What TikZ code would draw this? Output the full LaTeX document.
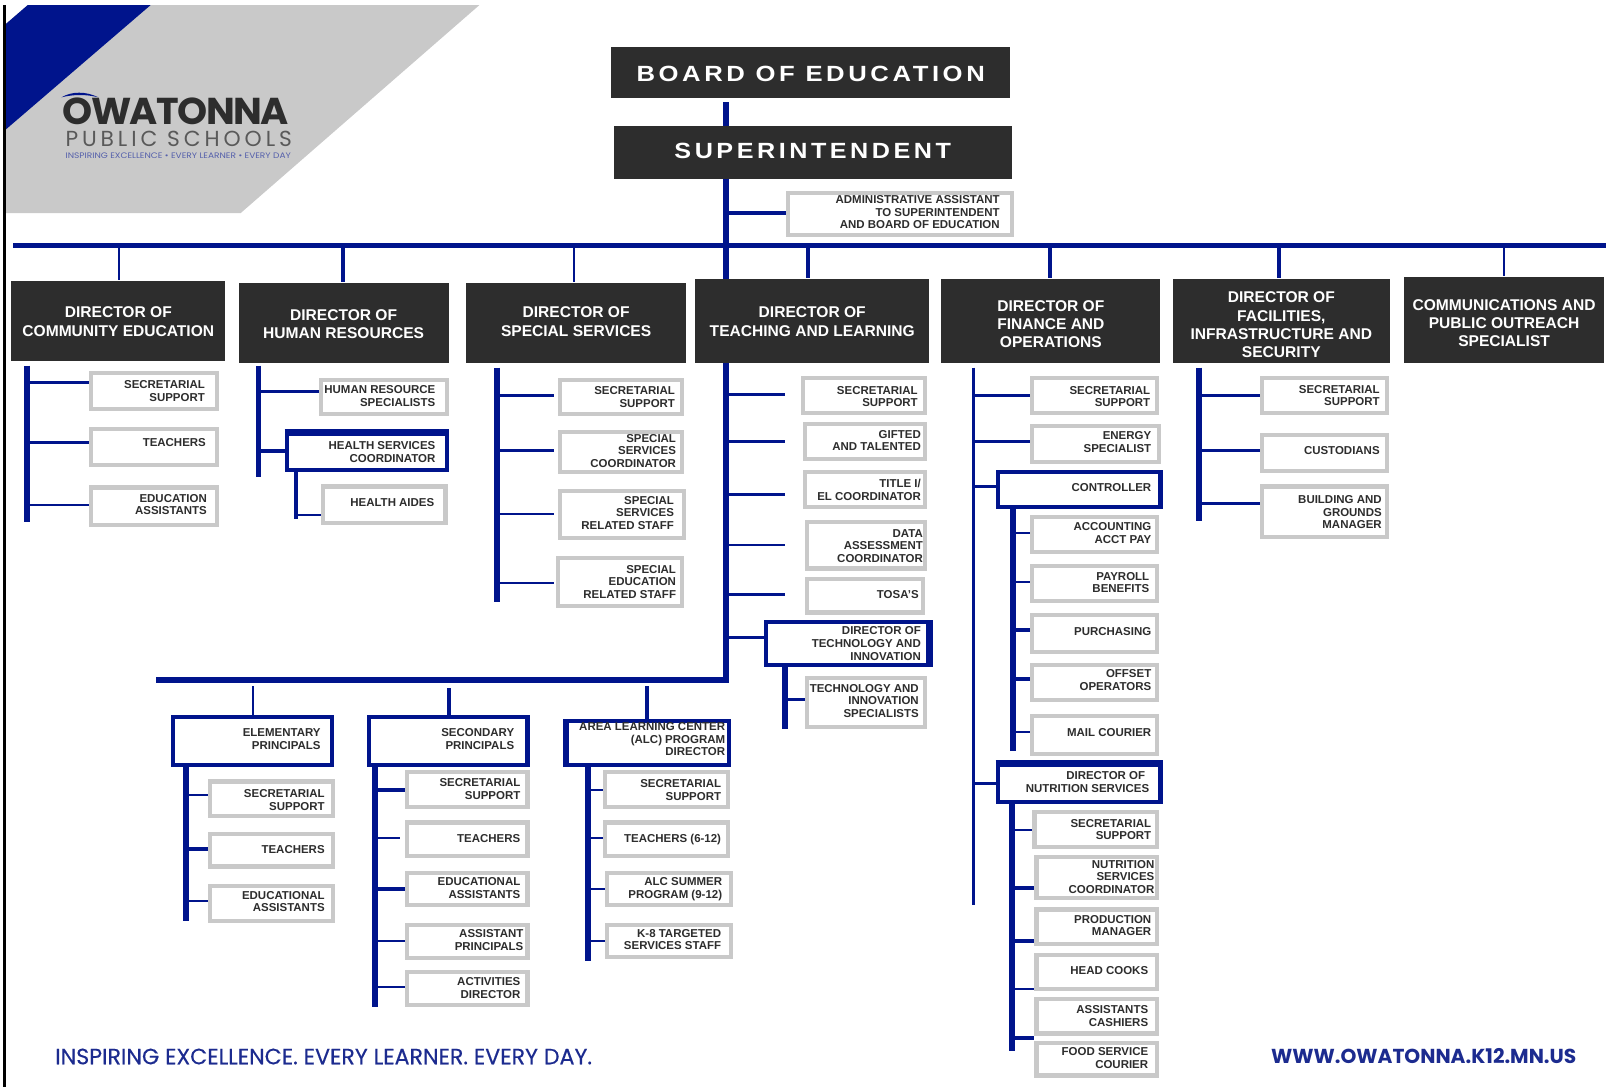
\documentclass[tikz,border=0pt]{standalone}
\usepackage{fontspec}
\setmainfont{Liberation Sans}
\newfontfamily\popfont{Poppins}
\newfontfamily\popmed[FakeBold=0.35]{Poppins}
\newfontfamily\poptight[LetterSpace=-4]{Poppins}
\newfontfamily\popwide[LetterSpace=18]{Poppins}
\newfontfamily\widefont[LetterSpace=14]{Liberation Sans}
\usetikzlibrary{backgrounds}
\definecolor{navy}{HTML}{00148C}
\definecolor{boxgray}{HTML}{C9C9C9}
\definecolor{dark}{HTML}{2D2D2D}
\definecolor{foot}{HTML}{1C2B8F}
\tikzset{
  graybox/.style={draw=boxgray,line width=4pt,fill=white,inner sep=0pt,text=dark,font=\bfseries\fontsize{11.2}{12.3}\selectfont},
  bluebox/.style={draw=navy,line width=4pt,fill=white,inner sep=0pt,text=dark,font=\bfseries\fontsize{11.2}{12.3}\selectfont},
  darkbox/.style={fill=dark,inner sep=0pt,text=white,font=\bfseries\fontsize{15.2}{17.8}\selectfont},
  conn/.style={draw=navy,line cap=butt},
  plaintext/.style={inner sep=0pt,anchor=center}
}
\newcommand\inlabel[4]{\makebox[#1][r]{\raisebox{#3}[0pt][0pt]{\begin{tabular}{@{}r@{}}#4\end{tabular}}\hspace*{#2}}}
\newcommand\anybox[9]{\node[#1,minimum width=#4pt-#2pt-4pt,minimum height=#5pt-#3pt-4pt] (#9) at ({(#2+#4)/2},{(#3+#5)/2})
  {\inlabel{\dimexpr#4pt-#2pt-4pt\relax}{\dimexpr#4pt-#6pt-2pt\relax}{\dimexpr(#3pt+#5pt)/2-#7pt-4.4pt\relax}{#8}};}
% name x1 y1 x2 y2 xright ycentre text
\newcommand\grbox[8]{\anybox{graybox}{#2}{#3}{#4}{#5}{#6}{#7}{#8}{#1}}
\newcommand\blbox[8]{\anybox{bluebox}{#2}{#3}{#4}{#5}{#6}{#7}{#8}{#1}}
\newcommand\dkbox[7]{\node[darkbox,minimum width=#4pt-#2pt,minimum height=#5pt-#3pt] (#1) at ({(#2+#4)/2},{(#3+#5)/2})
  {\raisebox{\dimexpr(#3pt+#5pt)/2-#6pt-6.4pt\relax}[0pt][0pt]{\begin{tabular}{@{}c@{}}#7\end{tabular}}};}
% spine: x y0 y1 width
\newcommand\spine[5]{\coordinate (#1) at (#2,#3); \coordinate (#1e) at (#2,#4); \draw[conn,line width=#5pt] (#1) -- (#1e);}
% branch: spine box y width
\newcommand\branch[4]{\draw[conn,line width=#4pt] (#1 |- 0,#3) -- (#2.west |- 0,#3);}
\newcommand\shortbranch[5]{\draw[conn,line width=#4pt,shorten >=#5pt] (#1 |- 0,#3) -- (#2.west |- 0,#3);}
\newcommand\stem[3]{\draw[conn,line width=#3pt] (#2,0 |- bus) -- (#2,0 |- #1.north);}
\begin{document}
\begin{tikzpicture}[x=1pt,y=-1pt]
\useasboundingbox (0,0) rectangle (1568,1061);
% logo band
\fill[boxgray] (5,5) -- (468,5) -- (235,208) -- (5,208) -- cycle;
\fill[white] (5,5) -- (27,5) -- (5,24) -- cycle;
\fill[navy] (5,24) -- (27,5) -- (147,5) -- (5,127) -- cycle;
\fill[navy] (60,95) .. controls (70,89) and (84,89) .. (96,95) .. controls (84,92) and (72,92) .. (60,95) -- cycle;
\node[plaintext,text=dark] (logoa) at (171.5,108.5) {\resizebox{221pt}{26pt}{\poptight\bfseries OWATONNA}};
\node[plaintext,text=black!65] (logob) at (174.5,136) {\resizebox{221pt}{15pt}{\popwide PUBLIC SCHOOLS}};
\node[plaintext,text=foot!75] (logoc) at (174,152.5) {\resizebox{220pt}{5.5pt}{\popfont INSPIRING EXCELLENCE • EVERY LEARNER • EVERY DAY}};
\draw[black,line width=2.5pt] (4.2,5) -- (4.2,1061);
% top
\dkbox{board}{597}{46}{986}{96}{72}{\resizebox{340pt}{15pt}{\widefont\bfseries BOARD OF EDUCATION}}
\dkbox{super}{599}{123}{988}{175}{147}{\resizebox{270pt}{15pt}{\widefont\bfseries SUPERINTENDENT}}
\grbox{admin}{767}{186}{990}{231}{976}{207}{ADMINISTRATIVE ASSISTANT\\TO SUPERINTENDENT\\AND BOARD OF EDUCATION}
% directors
\dkbox{comm}{11}{274}{220}{352}{313}{DIRECTOR OF\\COMMUNITY EDUCATION}
\dkbox{hr}{233}{276}{438}{354}{315}{DIRECTOR OF\\HUMAN RESOURCES}
\dkbox{spec}{455}{276}{670}{354}{313}{DIRECTOR OF\\SPECIAL SERVICES}
\dkbox{teach}{679}{272}{907}{354}{313}{DIRECTOR OF\\TEACHING AND LEARNING}
\dkbox{fin}{919}{272}{1133}{354}{315.5}{DIRECTOR OF\\FINANCE AND\\OPERATIONS}
\dkbox{fac}{1145}{272}{1357}{354}{316}{DIRECTOR OF\\FACILITIES,\\INFRASTRUCTURE AND\\SECURITY}
\dkbox{pub}{1371}{270}{1566}{354}{314.5}{COMMUNICATIONS AND\\PUBLIC OUTREACH\\SPECIALIST}
% community
\grbox{c1}{87}{362}{214}{401}{200}{381.5}{SECRETARIAL\\SUPPORT}
\grbox{c2}{87}{417}{214}{456}{201}{432}{TEACHERS}
\grbox{c3}{87}{474}{214}{515}{202}{492.5}{EDUCATION\\ASSISTANTS}
% HR
\grbox{h1}{311}{369}{438}{406}{425}{386.5}{HUMAN RESOURCE\\SPECIALISTS}
\blbox{h2}{278}{422}{438}{461}{425}{441}{HEALTH SERVICES\\COORDINATOR}
\grbox{h3}{313}{473}{437}{513}{424}{490}{HEALTH AIDES}
% special
\grbox{s1}{545}{369}{668}{406}{659}{387.5}{SECRETARIAL\\SUPPORT}
\grbox{s2}{545}{420}{668}{463}{660}{440}{SPECIAL\\SERVICES\\COORDINATOR}
\grbox{s3}{545}{477}{670}{527}{658}{500.5}{SPECIAL\\SERVICES\\RELATED STAFF}
\grbox{s4}{543}{543}{668}{594}{660}{568}{SPECIAL\\EDUCATION\\RELATED STAFF}
% teaching
\grbox{t1}{782}{367}{905}{405}{896}{387}{SECRETARIAL\\SUPPORT}
\grbox{t2}{784}{412}{905}{450}{899}{430}{GIFTED\\AND TALENTED}
\grbox{t3}{784}{459}{905}{497}{899}{478}{TITLE I/\\EL COORDINATOR}
\grbox{t4}{786}{508}{905}{557}{901}{532.5}{DATA\\ASSESSMENT\\COORDINATOR}
\grbox{t5}{786}{563}{903}{600}{897}{580}{TOSA'S}
\blbox{t6}{746}{605}{908}{651}{899}{628}{DIRECTOR OF\\TECHNOLOGY AND\\INNOVATION}
\grbox{t7}{786}{660}{905}{712}{897}{684}{TECHNOLOGY AND\\INNOVATION\\SPECIALISTS}
% lower
\blbox{el}{167}{698}{326}{749}{313}{721.5}{ELEMENTARY\\PRINCIPALS}
\blbox{se}{358}{698}{517}{749}{502}{721.5}{SECONDARY\\PRINCIPALS}
\blbox{alc}{552}{702}{714}{749}{708}{721.5}{AREA LEARNING CENTER\\(ALC) PROGRAM\\DIRECTOR}
\grbox{el1}{203}{761}{327}{799}{317}{781}{SECRETARIAL\\SUPPORT}
\grbox{el2}{203}{812}{327}{848}{317}{829}{TEACHERS}
\grbox{el3}{203}{863}{327}{901}{317}{880}{EDUCATIONAL\\ASSISTANTS}
\grbox{se1}{395}{752}{517}{790}{508}{770}{SECRETARIAL\\SUPPORT}
\grbox{se2}{395}{801}{517}{838}{508}{818}{TEACHERS}
\grbox{se3}{395}{850}{517}{886}{508}{867}{EDUCATIONAL\\ASSISTANTS}
\grbox{se4}{395}{901}{517}{937}{511}{917.5}{ASSISTANT\\PRINCIPALS}
\grbox{se5}{395}{947}{517}{983}{508}{964.5}{ACTIVITIES\\DIRECTOR}
\grbox{a1}{589}{752}{713}{790}{704}{771}{SECRETARIAL\\SUPPORT}
\grbox{a2}{589}{801}{713}{838}{704}{818}{TEACHERS (6-12)}
\grbox{a3}{591}{850}{716}{886}{705}{867}{ALC SUMMER\\PROGRAM (9-12)}
\grbox{a4}{591}{901}{716}{936}{704}{917}{K-8 TARGETED\\SERVICES STAFF}
% finance
\grbox{f1}{1006}{367}{1132}{405}{1123}{387}{SECRETARIAL\\SUPPORT}
\grbox{f2}{1006}{414}{1134}{453}{1124}{431.5}{ENERGY\\SPECIALIST}
\blbox{f3}{972}{459}{1135}{497}{1124}{476}{CONTROLLER}
\grbox{f4}{1006}{503}{1132}{541}{1124}{520}{ACCOUNTING\\ACCT PAY}
\grbox{f5}{1006}{551}{1132}{589}{1122}{568.5}{PAYROLL\\BENEFITS}
\grbox{f6}{1006}{598}{1132}{639}{1124}{616}{PURCHASING}
\grbox{f7}{1006}{647}{1132}{685}{1124}{663.5}{OFFSET\\OPERATORS}
\grbox{f8}{1006}{697}{1132}{738}{1124}{715}{MAIL COURIER}
\blbox{f9}{972}{745}{1135}{785}{1122}{763}{DIRECTOR OF\hspace*{4pt}\\NUTRITION SERVICES}
\grbox{f10}{1008}{791}{1132}{829}{1124}{809.5}{SECRETARIAL\\SUPPORT}
\grbox{f11}{1010}{835}{1132}{879}{1127}{856}{NUTRITION\\SERVICES\\COORDINATOR}
\grbox{f12}{1010}{886}{1132}{924}{1124}{903.5}{PRODUCTION\\MANAGER}
\grbox{f13}{1010}{930}{1132}{968}{1121}{947}{HEAD COOKS}
\grbox{f14}{1010}{973}{1132}{1011}{1121}{991.5}{ASSISTANTS\\CASHIERS}
\grbox{f15}{1010}{1016}{1132}{1052}{1121}{1033}{FOOD SERVICE\\COURIER}
% facilities
\grbox{fa1}{1230}{367}{1356}{405}{1347}{386}{SECRETARIAL\\SUPPORT}
\grbox{fa2}{1230}{423}{1356}{462}{1347}{440}{CUSTODIANS}
\grbox{fa3}{1230}{473}{1356}{526}{1349}{500}{BUILDING AND\\GROUNDS\\MANAGER}
% thicker sides
\draw[navy,line width=5.5pt,yshift=-1pt] (h2.north west) -- (h2.north east);
\draw[navy,line width=5.5pt,yshift=-1pt] (f9.north west) -- (f9.north east);
\draw[navy,line width=5.5pt,xshift=-1pt] (t6.south east) -- (t6.north east);
\draw[navy,line width=5.5pt,xshift=1pt] (alc.south west) -- (alc.north west);
% footer
\node[plaintext,text=foot] (foota) at (316,1031.5) {\resizebox{524pt}{!}{\popmed INSPIRING EXCELLENCE. EVERY LEARNER. EVERY DAY.}};
\node[plaintext,text=foot] (footb) at (1390,1031.5) {\resizebox{298pt}{!}{\popfont\bfseries WWW.OWATONNA.K12.MN.US}};
% connectors
\coordinate (tr) at (709,100);
\coordinate (bus) at (13,240);
\coordinate (busr) at (1568,240);
\coordinate (lowbus) at (152,664);
\begin{scope}[on background layer]
\draw[conn,line width=5pt] (bus) -- (busr);
\draw[conn,line width=6pt] (tr) -- (tr |- super.north);
\draw[conn,line width=6pt,line join=miter] (tr |- super.south) -- (tr |- lowbus) -- (lowbus);
\branch{tr}{admin}{208}{3.5}
\spine{sc}{26}{357}{510}{6}
\branch{sc}{c1}{373}{3}\branch{sc}{c2}{432}{3}\branch{sc}{c3}{493}{2}
\spine{sh}{252}{357}{466}{5}
\branch{sh}{h1}{382}{3}\branch{sh}{h2}{440}{4}
\spine{sh2}{289}{461}{507}{3}
\branch{sh2}{h3}{503}{2}
\spine{ss}{485}{359}{588}{6}
\shortbranch{ss}{s1}{386}{3}{4}\shortbranch{ss}{s2}{440}{3}{4}\shortbranch{ss}{s3}{502}{2}{4}\shortbranch{ss}{s4}{569}{2}{2}
\shortbranch{tr}{t1}{385}{3}{16}\shortbranch{tr}{t2}{431}{3}{18}\shortbranch{tr}{t3}{483}{3}{18}
\shortbranch{tr}{t4}{532}{2}{20}\shortbranch{tr}{t5}{580}{3}{20}
\branch{tr}{t6}{622}{3}
\spine{st}{766}{651}{712}{6}
\branch{st}{t7}{683}{3}
\spine{sel}{182}{749}{899}{6}
\branch{sel}{el1}{776}{2}\branch{sel}{el2}{829}{4}\branch{sel}{el3}{880}{2}
\spine{sse}{366}{749}{983}{6}
\branch{sse}{se1}{771}{4}\shortbranch{sse}{se2}{818}{2}{4}\branch{sse}{se3}{868}{4}\branch{sse}{se4}{919}{2}\branch{sse}{se5}{964}{2}
\spine{sa}{574}{749}{938}{6}
\branch{sa}{a1}{771}{2}\branch{sa}{a2}{818}{2}\branch{sa}{a3}{868}{2}\branch{sa}{a4}{919}{2}
\spine{sf}{950}{359}{884}{3}
\branch{sf}{f1}{386}{3}\branch{sf}{f2}{431}{3}\branch{sf}{f3}{475}{2}\branch{sf}{f9}{765}{3}
\spine{sf2}{989}{497}{733}{6}
\branch{sf2}{f4}{520}{2}\branch{sf2}{f5}{568}{2}\branch{sf2}{f6}{615}{4}\branch{sf2}{f7}{663}{4}\branch{sf2}{f8}{715}{2}
\spine{sf3}{988}{785}{1026}{6}
\branch{sf3}{f10}{810}{2}\branch{sf3}{f11}{867}{4}\branch{sf3}{f12}{919}{4}\branch{sf3}{f13}{966}{2}\branch{sf3}{f14}{1013}{4}
\spine{sfa}{1171}{359}{509}{6}
\branch{sfa}{fa1}{386}{3}\branch{sfa}{fa2}{440}{3}\branch{sfa}{fa3}{492}{3}
\end{scope}
% stems
\stem{comm}{116}{2}
\stem{hr}{335}{4}
\stem{spec}{560}{2}
\stem{teach}{789}{4}
\stem{fin}{1025}{4}
\stem{fac}{1249}{4}
\stem{pub}{1468}{2}
\coordinate (elt) at (247,670);
\coordinate (set) at (438,672);
\coordinate (alt) at (632,670);
\draw[conn,line width=2pt] (elt) -- (elt |- el.north);
\draw[conn,line width=4pt] (set) -- (set |- se.north);
\draw[conn,line width=4pt] (alt) -- (alt |- alc.north);
\end{tikzpicture}
\end{document}
